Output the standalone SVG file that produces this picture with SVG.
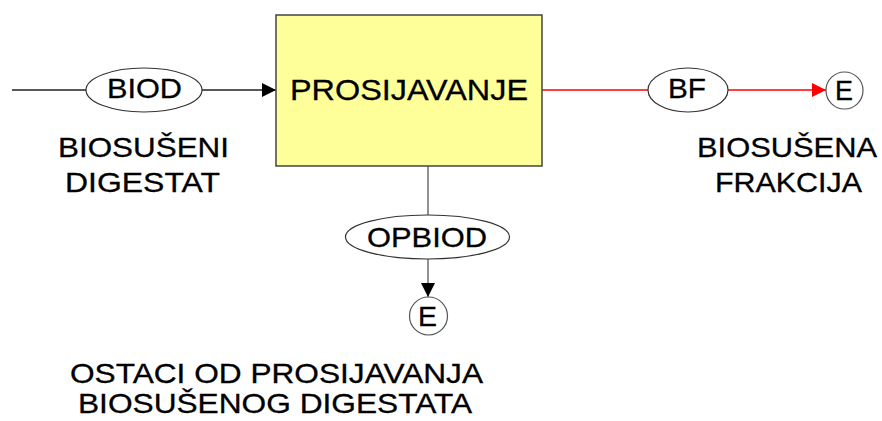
<svg xmlns="http://www.w3.org/2000/svg" width="882" height="421" viewBox="0 0 882 421">
<style>
text{font-family:"Liberation Sans",Arial,sans-serif;font-size:27.5px;fill:#000;stroke:#000;stroke-width:0.3;text-anchor:middle}
.ln{stroke:#222;stroke-width:1.3;fill:none}
.red{stroke:#ff0000;stroke-width:1.3;fill:none}
.el{fill:#fff;stroke:#333;stroke-width:1.2}
.box{fill:#ffff99;stroke:#444;stroke-width:1.5}
</style>
<defs>
<marker id="ab" viewBox="0 0 14 14" refX="14" refY="7" markerWidth="14" markerHeight="14" markerUnits="userSpaceOnUse" orient="auto"><path d="M0,0 L14,7 L0,14 Z" fill="#000"/></marker>
<marker id="ar" viewBox="0 0 14 14" refX="14" refY="7" markerWidth="14" markerHeight="14" markerUnits="userSpaceOnUse" orient="auto"><path d="M0,0 L14,7 L0,14 Z" fill="#ff0000"/></marker>
</defs>
<g id="connectors">
<line class="ln" x1="12" y1="90" x2="86" y2="90"/>
<line class="ln" x1="202" y1="90" x2="276" y2="90" marker-end="url(#ab)"/>
<line class="red" x1="542" y1="90" x2="648" y2="90"/>
<line class="red" x1="728" y1="90" x2="826" y2="90" marker-end="url(#ar)"/>
<line class="ln" x1="428" y1="166" x2="428" y2="215" style="stroke:#555"/>
<line class="ln" x1="428" y1="259" x2="428" y2="297" marker-end="url(#ab)" style="stroke:#555"/>
</g>
<g id="prosijavanje">
<rect class="box" x="276" y="15" width="266" height="151"/>
<text x="409" y="100" style="font-size:30px" textLength="238" lengthAdjust="spacingAndGlyphs">PROSIJAVANJE</text>
</g>
<g id="biod">
<ellipse class="el" cx="144" cy="90" rx="58" ry="22"/>
<text x="144.5" y="98" textLength="75" lengthAdjust="spacingAndGlyphs">BIOD</text>
</g>
<g id="bf">
<ellipse class="el" cx="688" cy="90" rx="40" ry="22"/>
<text x="687" y="98" textLength="38" lengthAdjust="spacingAndGlyphs">BF</text>
</g>
<g id="e-right">
<circle class="el" cx="844.5" cy="90.5" r="18.5" style="stroke:#555"/>
<text x="844" y="100" textLength="18" lengthAdjust="spacingAndGlyphs">E</text>
</g>
<g id="opbiod">
<ellipse class="el" cx="427.5" cy="237" rx="82" ry="22"/>
<text x="427" y="247" textLength="120" lengthAdjust="spacingAndGlyphs">OPBIOD</text>
</g>
<g id="e-bottom">
<circle class="el" cx="428.5" cy="316" r="19" style="stroke:#555"/>
<text x="427.5" y="326" textLength="19" lengthAdjust="spacingAndGlyphs">E</text>
</g>
<g id="labels">
<text x="143.5" y="157" textLength="171" lengthAdjust="spacingAndGlyphs">BIOSUŠENI</text>
<text x="142.5" y="192" textLength="155" lengthAdjust="spacingAndGlyphs">DIGESTAT</text>
<text x="787" y="157" textLength="180" lengthAdjust="spacingAndGlyphs">BIOSUŠENA</text>
<text x="788.5" y="192" textLength="147" lengthAdjust="spacingAndGlyphs">FRAKCIJA</text>
<text x="276.5" y="383" textLength="413" lengthAdjust="spacingAndGlyphs">OSTACI OD PROSIJAVANJA</text>
<text x="275" y="413" textLength="394" lengthAdjust="spacingAndGlyphs">BIOSUŠENOG DIGESTATA</text>
</g>
</svg>
